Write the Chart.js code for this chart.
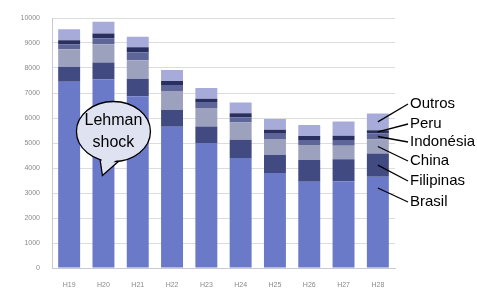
<!DOCTYPE html>
<html>
<head>
<meta charset="utf-8">
<script src="https://cdn.jsdelivr.net/npm/chart.js@4/dist/chart.umd.min.js"></script>
<style>
  html, body { margin: 0; padding: 0; background: #fff; overflow: hidden; }
  #wrap { position: relative; width: 477px; height: 289px; }
  #title { position: absolute; left: 0; width: 477px; top: -18px; text-align: center;
           font: 17px/20px "Liberation Sans", Arial, sans-serif; color: #111; white-space: nowrap; }
</style>
</head>
<body>
<div id="wrap">
  <div id="title">Evolução da população estrangeira por nacionalidade</div>
  <canvas id="chart" width="477" height="289"></canvas>
</div>
<script>
// Categories (Heisei years)
const years = ["H19", "H20", "H21", "H22", "H23", "H24", "H25", "H26", "H27", "H28"];

// Series, bottom to top
const brasil    = [7450, 7550, 6870, 5650, 5000, 4400, 3800, 3450, 3470, 3650];
const filipinas = [ 600,  670,  700,  670,  660,  730,  730,  870,  880,  930];
const china     = [ 700,  730,  740,  760,  740,  690,  630,  600,  540,  560];
const indonesia = [ 200,  240,  320,  240,  240,  210,  210,  200,  230,  240];
const peru      = [ 160,  190,  200,  160,  130,  160,  160,  160,  170,  130];
const outros    = [ 440,  470,  420,  440,  430,  430,  430,  440,  570,  670];

const seriesNames = ["Brasil", "Filipinas", "China", "Indonésia", "Peru", "Outros"];
const seriesData = [brasil, filipinas, china, indonesia, peru, outros];
const seriesColors = ["#6b79c9", "#414b82", "#9ca2be", "#5e6699", "#292f5e", "#a6abd9"];

const yTicks = [0, 1000, 2000, 3000, 4000, 5000, 6000, 7000, 8000, 9000, 10000];

// Right-side labels with leader lines pointing into the last bar
const labelY = [202, 181, 161, 142, 124, 104];
const annotate = {
  id: "annotate",
  afterDatasetsDraw(chart) {
    const ctx = chart.ctx;
    const xs = chart.scales.x, ys = chart.scales.y;
    const last = years.length - 1;
    const x0 = xs.getPixelForValue(last);
    ctx.save();
    ctx.strokeStyle = "#000";
    ctx.lineWidth = 1.3;
    ctx.fillStyle = "#000";
    ctx.font = "15px 'Liberation Sans', Arial, sans-serif";
    ctx.textBaseline = "middle";
    let base = 0;
    seriesData.forEach((arr, i) => {
      const v = arr[last];
      let target = i === 0 ? base + v - 450 : base + v / 2;
      const y0 = ys.getPixelForValue(target);
      ctx.beginPath();
      ctx.moveTo(x0, y0);
      ctx.lineTo(408, labelY[i]);
      ctx.stroke();
      ctx.fillText(seriesNames[i], 410, labelY[i]);
      base += v;
    });

    // Lehman shock callout pointing at H20
    const tipX = xs.getPixelForValue(1) - 1;
    const tipY = ys.getPixelForValue(3700);
    const cx = tipX + 11, cy = tipY - 44;
    ctx.fillStyle = "#dfe2f0";
    ctx.beginPath();
    ctx.moveTo(cx - 14, cy + 24);
    ctx.lineTo(tipX, tipY);
    ctx.lineTo(cx + 6, cy + 29);
    ctx.closePath();
    ctx.fill();
    ctx.stroke();
    ctx.beginPath();
    ctx.ellipse(cx, cy, 37, 30, 0, 0, Math.PI * 2);
    ctx.fill();
    ctx.stroke();
    // cover seam between tail and ellipse
    ctx.beginPath();
    ctx.moveTo(cx - 12.5, cy + 23);
    ctx.lineTo(tipX + 0.5, tipY - 4);
    ctx.lineTo(cx + 4.5, cy + 27);
    ctx.closePath();
    ctx.fill();
    ctx.fillStyle = "#000";
    ctx.textAlign = "center";
    ctx.font = "16px 'Liberation Sans', Arial, sans-serif";
    ctx.fillText("Lehman", cx, cy - 11);
    ctx.fillText("shock", cx, cy + 11);
    ctx.restore();
  }
};

new Chart(document.getElementById("chart").getContext("2d"), {
  type: "bar",
  data: {
    labels: years,
    datasets: seriesNames.map((name, i) => ({
      label: name,
      data: seriesData[i],
      backgroundColor: seriesColors[i],
      borderWidth: 0,
      categoryPercentage: 1.0,
      barPercentage: 0.64
    }))
  },
  options: {
    responsive: false,
    animation: false,
    layout: { padding: { left: 0, right: 82, top: 18, bottom: 0 } },
    plugins: {
      legend: { display: false },
      tooltip: { enabled: false }
    },
    scales: {
      x: {
        stacked: true,
        grid: { display: false },
        border: { color: "#c8c8d8" },
        ticks: { color: "#8a8a8a", font: { size: 7 }, padding: 5 },
        afterFit(scale) { scale.height = 21; }
      },
      y: {
        stacked: true,
        min: 0,
        max: 10000,
        afterBuildTicks(scale) { scale.ticks = yTicks.map(v => ({ value: v })); },
        grid: { color: "#dcdcdc", drawTicks: false },
        border: { color: "#c8c8d8" },
        ticks: {
          color: "#8a8a8a",
          font: { size: 7 },
          padding: 12,
          callback: v => String(v)
        },
        afterFit(scale) { scale.width = 52; }
      }
    }
  },
  plugins: [annotate]
});
</script>
</body>
</html>
